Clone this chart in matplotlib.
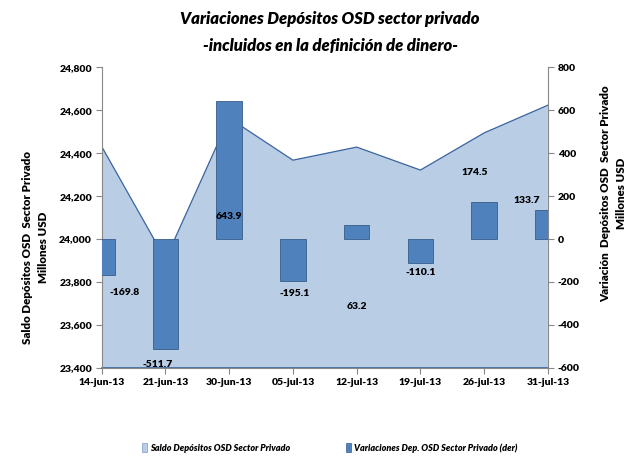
import matplotlib
matplotlib.use("Agg")
import matplotlib.pyplot as plt
from matplotlib.patches import Patch
import numpy as np

categories = ["14-jun-13", "21-jun-13", "30-jun-13", "05-jul-13", "12-jul-13", "19-jul-13", "26-jul-13", "31-jul-13"]
saldo = [24430, 23905, 24563, 24367, 24428, 24321, 24494, 24623]
variacion = [-169.8, -511.7, 643.9, -195.1, 63.2, -110.1, 174.5, 133.7]
label_x = [0.36, 0.87, 2.0, 3.03, 4.0, 5.0, 5.86, 6.67]
label_y = [-251, -586, 104, -256, -315, -158, 308, 181]

FONT = "Lato"
plt.rcParams['font.family'] = [FONT, 'DejaVu Sans']
W = "heavy"

fig = plt.figure(figsize=(6.4, 4.57), dpi=100)
ax = fig.add_axes([0.159, 0.195, 0.697, 0.658])
x = np.arange(len(categories))

ax.fill_between(x, saldo, 23400, facecolor="#B9CDE5", edgecolor="none", zorder=1)
ax.plot(x, saldo, color="#3A64A0", lw=0.9, zorder=2)
ax.plot([0, 7], [23400, 23400], color="#3A64A0", lw=1.2, zorder=2, clip_on=False)
ax.set_xlim(0, 7)
ax.set_ylim(23400, 24800)
ax.set_yticks(np.arange(23400, 24801, 200))
ax.set_yticklabels([f"{v:,}" for v in range(23400, 24801, 200)], fontsize=7.5, fontweight=W)
ax.set_xticks(x)
ax.set_xticklabels(categories, fontsize=7.5, fontweight=W)
ax.spines["top"].set_visible(False)
ax.spines["left"].set_color("#888888")
ax.spines["bottom"].set_color("#888888")
ax.spines["right"].set_visible(False)
ax.tick_params(axis="both", color="#888888", length=4, width=0.8, pad=3)
ax.set_ylabel("Saldo Depósitos OSD  Sector Privado\nMillones USD", fontsize=8.3, fontweight=W,
              labelpad=7, linespacing=1.55)
ax.yaxis.label.set_y(0.40)

ax2 = ax.twinx()
ax2.bar(x, variacion, width=0.4, color="#4F81BD", edgecolor="#385D8A", linewidth=0.6, zorder=3)
ax2.set_ylim(-600, 800)
ax2.set_yticks(np.arange(-600, 801, 200))
ax2.set_yticklabels([str(v) for v in range(-600, 801, 200)], fontsize=7.5, fontweight=W)
ax2.spines["top"].set_visible(False)
ax2.spines["left"].set_visible(False)
ax2.spines["bottom"].set_visible(False)
ax2.spines["right"].set_color("#888888")
ax2.tick_params(axis="y", color="#888888", length=4, width=0.8, pad=3)
ax2.set_ylabel("Variación  Depósitos OSD  Sector Privado\nMillones USD", fontsize=8.3, fontweight=W,
               labelpad=15, linespacing=1.5)
ax2.yaxis.label.set_y(0.58)
ax2.set_xlim(0, 7)

for lx, ly, v in zip(label_x, label_y, variacion):
    ax2.text(lx, ly, f"{v:.1f}", ha="center", va="center", fontsize=7.5, fontweight=W, zorder=5)

fig.text(0.516, 0.958, "Variaciones Depósitos OSD sector privado", ha="center", va="center",
         fontsize=12, fontweight=W, style="italic")
fig.text(0.516, 0.900, "-incluidos en la definición de dinero-", ha="center", va="center",
         fontsize=12, fontweight=W, style="italic")

handles = [Patch(facecolor="#B9CDE5", edgecolor="#7F9CC4", linewidth=0.5),
           Patch(facecolor="#4F81BD", edgecolor="#385D8A", linewidth=0.5)]
leg = fig.legend(handles, ["Saldo Depósitos OSD Sector Privado", "Variaciones Dep. OSD Sector Privado (der)"],
                 loc="center", bbox_to_anchor=(0.515, 0.02), ncol=2, frameon=False,
                 prop={"size": 6.5, "weight": W, "style": "italic", "family": FONT},
                 handlelength=0.6, handleheight=1.0, handletextpad=0.3, columnspacing=6.2)

fig.savefig("out.png", dpi=100)
